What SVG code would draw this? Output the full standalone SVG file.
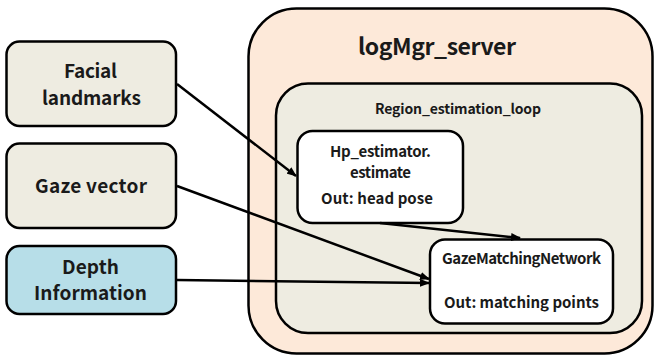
<svg xmlns="http://www.w3.org/2000/svg" width="655" height="356" viewBox="0 0 655 356">
<defs>
<marker id="ah" markerWidth="10" markerHeight="8" refX="9" refY="4" orient="auto" markerUnits="userSpaceOnUse">
<path d="M0,0 L10,4 L0,8 Z" fill="#000"/>
</marker>
<style>
.box{stroke:#000;stroke-width:2.5}
.tan{fill:#EEECE1}
.blue{fill:#B7DEE8}
.peach{fill:#FDE9D9}
.white{fill:#fff}
text{font-family:"Noto Sans CJK KR","Noto Sans",sans-serif;font-weight:bold;fill:#1a1a1a;text-anchor:middle}
.big{font-size:19px}
.title{font-size:23px}
.mid{font-size:14px}
.sm{font-size:15px}
.conn{stroke:#000;stroke-width:2.5;fill:none;marker-end:url(#ah)}
</style>
</defs>
<rect width="655" height="356" fill="#fff"/>
<g id="logMgr_server">
<rect class="box peach" x="248.5" y="8.5" width="404" height="345" rx="48" ry="48"/>
<text class="title" x="437" y="55" textLength="158" lengthAdjust="spacing">logMgr_server</text>
</g>
<g id="region_estimation_loop">
<rect class="box tan" x="276" y="83.5" width="366" height="249.5" rx="32" ry="32"/>
<text class="mid" x="458" y="114" textLength="166" lengthAdjust="spacing">Region_estimation_loop</text>
</g>
<g id="hp_estimator">
<rect class="box white" x="297.5" y="131" width="165.5" height="92" rx="15" ry="15"/>
<text class="sm" x="380.5" y="157" textLength="101" lengthAdjust="spacing">Hp_estimator.</text>
<text class="sm" x="380.5" y="177.5" textLength="61" lengthAdjust="spacing">estimate</text>
<text class="sm" x="377" y="204" textLength="112" lengthAdjust="spacing">Out: head pose</text>
</g>
<g id="gaze_matching_network">
<rect class="box white" x="430" y="239.5" width="183" height="84" rx="15" ry="15"/>
<text class="sm" x="521.5" y="264" textLength="159" lengthAdjust="spacing">GazeMatchingNetwork</text>
<text class="sm" x="521.5" y="308" textLength="155" lengthAdjust="spacing">Out: matching points</text>
</g>
<g id="facial_landmarks">
<rect class="box tan" x="6.5" y="41.5" width="169.5" height="84.5" rx="13" ry="13"/>
<text class="big" x="90.5" y="78" textLength="53" lengthAdjust="spacing">Facial</text>
<text class="big" x="91.5" y="104.5" textLength="99" lengthAdjust="spacing">landmarks</text>
</g>
<g id="gaze_vector">
<rect class="box tan" x="6.5" y="143.5" width="169.5" height="84.5" rx="13" ry="13"/>
<text class="big" x="91" y="193" textLength="112" lengthAdjust="spacing">Gaze vector</text>
</g>
<g id="depth_information">
<rect class="box blue" x="6.5" y="246" width="169.5" height="68" rx="13" ry="13"/>
<text class="big" x="90.5" y="274" textLength="57" lengthAdjust="spacing">Depth</text>
<text class="big" x="90.5" y="300" textLength="113" lengthAdjust="spacing">Information</text>
</g>
<g id="connectors">
<line class="conn" x1="177" y1="84" x2="296" y2="176"/>
<line class="conn" x1="177" y1="186" x2="429" y2="279"/>
<line class="conn" x1="177" y1="280" x2="429" y2="283"/>
<line class="conn" x1="380" y1="223" x2="520" y2="238"/>
</g>
</svg>
